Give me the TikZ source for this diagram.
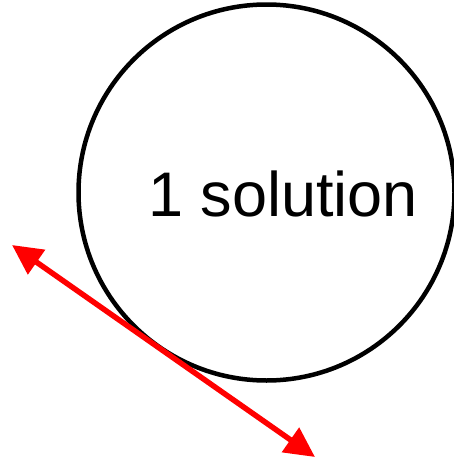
\documentclass[tikz,border=0pt]{standalone}
\usepackage{fontspec}
\setmainfont{Liberation Sans}
\usetikzlibrary{arrows.meta}
\begin{document}
\begin{tikzpicture}[x=1pt,y=-1pt,
  circ/.style={draw=black,line width=4.5pt},
  redarrow/.style={draw=red,line width=5.5pt,{Triangle[length=30pt,width=29pt]}-{Triangle[length=30pt,width=29pt]}},
  lbl/.style={font=\fontsize{63}{70}\selectfont,inner sep=0pt}]
\useasboundingbox (0,0) rectangle (454,461);
\node[circ,circle,minimum size=376pt,inner sep=0pt] (c) at (266.5,192.5) {};
\node[lbl,anchor=base] (t) at (283,216) {1 solution};
\coordinate (a) at (12,245);
\coordinate (b) at (315,457);
\draw[redarrow] (a) -- (b);
\end{tikzpicture}
\end{document}
